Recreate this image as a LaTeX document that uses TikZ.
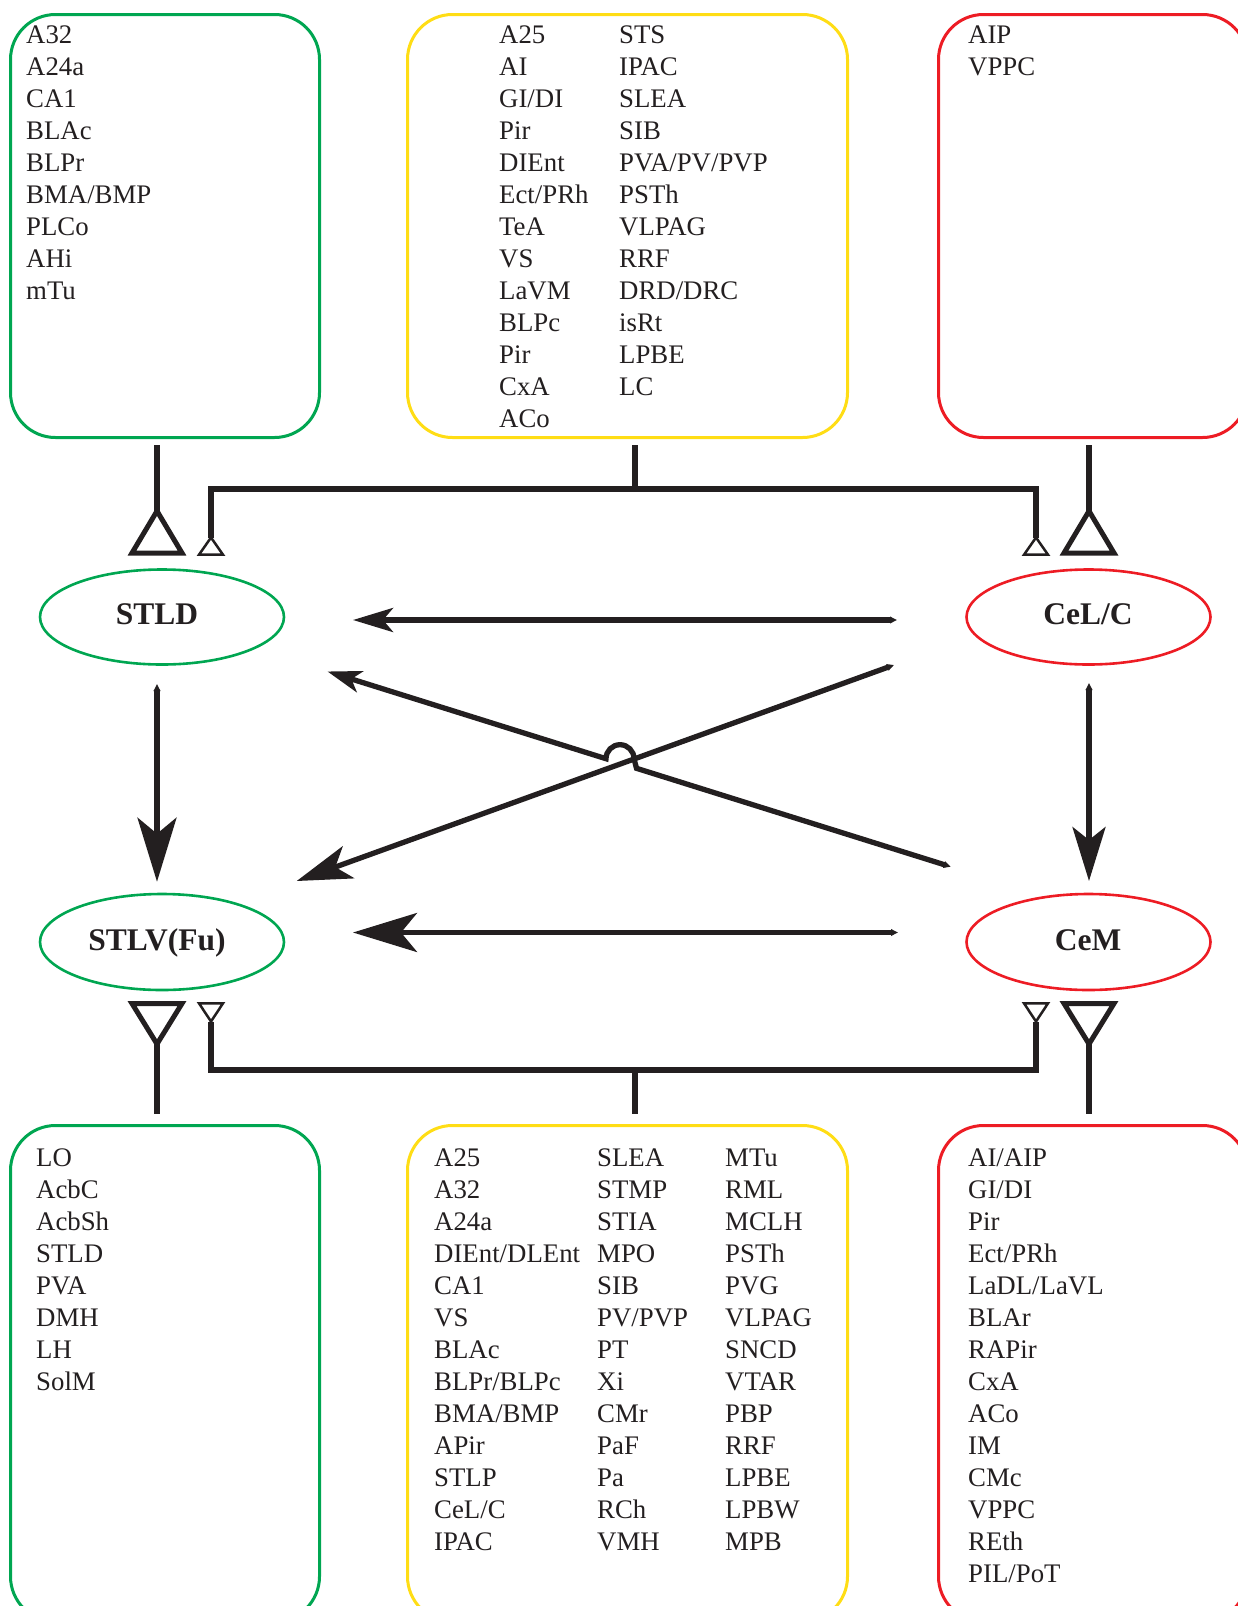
\documentclass[tikz,border=0pt]{standalone}
\usepackage{fontspec}
\setmainfont{Liberation Serif}
\usetikzlibrary{arrows.meta,shapes.geometric}
\definecolor{cgreen}{RGB}{0,166,81}
\definecolor{cyellow}{RGB}{255,221,21}
\definecolor{cred}{RGB}{237,28,36}
\definecolor{cink}{RGB}{35,31,32}
\tikzset{
  tailtip/.tip={Triangle[length=7pt,width=6.5pt]},
  bighd/.tip={Stealth[length=64pt,width=39pt,inset=16pt]},
  midhd/.tip={Stealth[length=55pt,width=34pt,inset=14pt]},
  rvhd/.tip={Stealth[length=54pt,width=33pt,inset=13pt]},
  smallhd/.tip={Stealth[length=40pt,width=24pt,inset=10pt]},
  tinyhd/.tip={Stealth[length=34pt,width=22pt,inset=9pt]},
}
\begin{document}
\begin{tikzpicture}[x=1pt,y=-1pt,
  regbox/.style={rectangle,draw,line width=3pt,rounded corners=45pt,anchor=north west,inner sep=0pt},
  nucl/.style={ellipse,draw,line width=2.6pt,minimum width=244pt,inner sep=0pt},
  lbl/.style={anchor=base west,inner sep=0pt,text=cink,font=\fontsize{26.8pt}{32pt}\selectfont},
  nlbl/.style={anchor=base,inner sep=0pt,text=cink,font=\bfseries\fontsize{31.5pt}{36pt}\selectfont},
  conn/.style={draw=cink,line width=5.3pt,line join=miter},
  thicktri/.style={draw=cink,line width=5pt,line join=miter},
  thintri/.style={draw=cink,line width=2.5pt,line join=miter},
]
\useasboundingbox (0,0) rectangle (1238,1606);
\clip (0,0) rectangle (1238,1606);

% region boxes
\node[regbox,draw=cgreen,minimum width=309pt,minimum height=423pt] (tlbox) at (9,13) {};
\node[regbox,draw=cyellow,minimum width=440pt,minimum height=423pt] (tmbox) at (406,13) {};
\node[regbox,draw=cred,minimum width=309pt,minimum height=423pt] (trbox) at (937,13) {};
\node[regbox,draw=cgreen,minimum width=309pt,minimum height=496pt] (blbox) at (9,1124) {};
\node[regbox,draw=cyellow,minimum width=440pt,minimum height=496pt] (bmbox) at (406,1124) {};
\node[regbox,draw=cred,minimum width=309pt,minimum height=496pt] (brbox) at (937,1124) {};

% box texts
\foreach \t [count=\i from 0] in {A32,A24a,CA1,BLAc,BLPr,BMA/BMP,PLCo,AHi,mTu}
  \node[lbl] (tl\i) at (26,{43.3+32*\i}) {\t};
\foreach \t [count=\i from 0] in {A25,AI,GI/DI,Pir,DIEnt,Ect/PRh,TeA,VS,LaVM,BLPc,Pir,CxA,ACo}
  \node[lbl] (tma\i) at (499,{43.3+32*\i}) {\t};
\foreach \t [count=\i from 0] in {STS,IPAC,SLEA,SIB,PVA/PV/PVP,PSTh,VLPAG,RRF,DRD/DRC,isRt,LPBE,LC}
  \node[lbl] (tmb\i) at (619,{43.3+32*\i}) {\t};
\foreach \t [count=\i from 0] in {AIP,VPPC}
  \node[lbl] (tr\i) at (968,{43.3+32*\i}) {\t};
\foreach \t [count=\i from 0] in {LO,AcbC,AcbSh,STLD,PVA,DMH,LH,SolM}
  \node[lbl] (bl\i) at (36,{1166+32*\i}) {\t};
\foreach \t [count=\i from 0] in {A25,A32,A24a,DIEnt/DLEnt,CA1,VS,BLAc,BLPr/BLPc,BMA/BMP,APir,STLP,CeL/C,IPAC}
  \node[lbl] (bma\i) at (434,{1166+32*\i}) {\t};
\foreach \t [count=\i from 0] in {SLEA,STMP,STIA,MPO,SIB,PV/PVP,PT,Xi,CMr,PaF,Pa,RCh,VMH}
  \node[lbl] (bmb\i) at (597,{1166+32*\i}) {\t};
\foreach \t [count=\i from 0] in {MTu,RML,MCLH,PSTh,PVG,VLPAG,SNCD,VTAR,PBP,RRF,LPBE,LPBW,MPB}
  \node[lbl] (bmc\i) at (725,{1166+32*\i}) {\t};
\foreach \t [count=\i from 0] in {AI/AIP,GI/DI,Pir,Ect/PRh,LaDL/LaVL,BLAr,RAPir,CxA,ACo,IM,CMc,VPPC,REth,PIL/PoT}
  \node[lbl] (br\i) at (968,{1166+32*\i}) {\t};

% nuclei
\node[nucl,draw=cgreen,minimum height=95pt] (stld) at (162,617) {};
\node[nucl,draw=cred,minimum height=95pt] (cel) at (1088.5,617) {};
\node[nucl,draw=cgreen,minimum height=96pt] (stlv) at (162,942) {};
\node[nucl,draw=cred,minimum height=96pt] (cem) at (1088.5,942) {};
\node[nlbl] (stldt) at (157,624) {STLD};
\node[nlbl] (celt) at (1088,624) {CeL/C};
\node[nlbl] (stlvt) at (157,950) {STLV(Fu)};
\node[nlbl] (cemt) at (1088,950) {CeM};

% top inputs
\coordinate (tla) at (157,445);   \coordinate (tlb) at (157,511);
\coordinate (tra) at (1089,445);  \coordinate (trb) at (1089,511);
\coordinate (tca) at (635,445);   \coordinate (tcb) at (635,489);
\coordinate (tsl) at (211,537.5); \coordinate (tsr) at (1036,537.5);
\draw[conn] (tla) -- (tlb);
\draw[conn] (tra) -- (trb);
\draw[conn] (tca) -- (tcb);
\draw[conn] (tsl) |- (tcb) -| (tsr);
\draw[thicktri] (tlb) -- ++(-25,42) -- ++(50,0) -- cycle;
\draw[thicktri] (trb) -- ++(-25,42) -- ++(50,0) -- cycle;
\draw[thintri] (tsl) -- ++(-12,17.2) -- ++(24,0) -- cycle;
\draw[thintri] (tsr) -- ++(-12,17.2) -- ++(24,0) -- cycle;

% bottom outputs
\coordinate (bla) at (157,1044);  \coordinate (blb) at (157,1114);
\coordinate (bra) at (1089,1044); \coordinate (brb) at (1089,1114);
\coordinate (bca) at (635,1070);  \coordinate (bcb) at (635,1114);
\coordinate (bsl) at (211,1021.5); \coordinate (bsr) at (1036,1021.5);
\draw[conn] (bla) -- (blb);
\draw[conn] (bra) -- (brb);
\draw[conn] (bca) -- (bcb);
\draw[conn] (bsl) |- (bca) -| (bsr);
\draw[thicktri] (bla) -- ++(-25,-40.5) -- ++(50,0) -- cycle;
\draw[thicktri] (bra) -- ++(-25,-40.5) -- ++(50,0) -- cycle;
\draw[thintri] (bsl) -- ++(-12,-18.2) -- ++(24,0) -- cycle;
\draw[thintri] (bsr) -- ++(-12,-18.2) -- ++(24,0) -- cycle;

% projections
\coordinate (h1s) at (897,620);   \coordinate (h1e) at (353,620);
\coordinate (h2s) at (898,932.5); \coordinate (h2e) at (353,932.5);
\coordinate (v1s) at (157,684);   \coordinate (v1e) at (157,881.7);
\coordinate (v2s) at (1089,683);  \coordinate (v2e) at (1089,881);
\coordinate (x1s) at (894,665);   \coordinate (x1e) at (296.7,881);
\coordinate (x2s) at (950.7,866.7); \coordinate (x2e) at (327.5,671.5);
\coordinate (hopa) at (636.5,768.3); \coordinate (hopb) at (634,758.7);
\draw[conn,tailtip-smallhd] (h1s) -- (h1e);
\draw[conn,tailtip-bighd] (h2s) -- (h2e);
\draw[conn,tailtip-bighd] (v1s) -- (v1e);
\draw[conn,tailtip-rvhd] (v2s) -- (v2e);
\draw[conn,tailtip-midhd] (x1s) -- (x1e);
\draw[conn,tailtip-tinyhd] (x2s) -- (hopa) -- (hopb) arc[start angle=0,end angle=-180,radius=14] -- (x2e);
\end{tikzpicture}
\end{document}
